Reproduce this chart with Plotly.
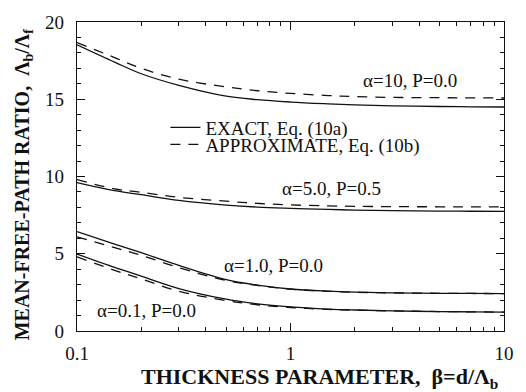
import plotly.graph_objects as go

# ---- data ----
beta = [0.1, 0.15, 0.2, 0.3, 0.5, 0.7, 1, 1.5, 2, 3, 5, 7, 10]

a10_exact = [18.52, 17.4, 16.65, 15.9, 15.2, 14.97, 14.82, 14.7, 14.63, 14.57, 14.53, 14.51, 14.5]
a10_approx = [18.67, 17.7, 17.0, 16.3, 15.8, 15.55, 15.38, 15.24, 15.17, 15.12, 15.1, 15.09, 15.08]
a5_exact = [9.6, 9.08, 8.82, 8.45, 8.15, 8.02, 7.94, 7.87, 7.83, 7.79, 7.76, 7.75, 7.74]
a5_approx = [9.8, 9.2, 8.98, 8.65, 8.4, 8.26, 8.16, 8.1, 8.07, 8.05, 8.04, 8.04, 8.04]
a1_exact = [6.43, 5.63, 5.07, 4.24, 3.32, 2.97, 2.72, 2.58, 2.52, 2.47, 2.44, 2.43, 2.42]
a1_approx = [6.1, 5.4, 4.9, 4.1, 3.27, 2.95, 2.71, 2.57, 2.51, 2.47, 2.44, 2.43, 2.42]
a01_exact = [4.98, 4.12, 3.55, 2.75, 2.06, 1.76, 1.56, 1.42, 1.36, 1.3, 1.26, 1.24, 1.22]
a01_approx = [4.8, 3.93, 3.37, 2.57, 1.97, 1.7, 1.52, 1.4, 1.35, 1.3, 1.26, 1.24, 1.22]

curve_labels = ["α=10, P=0.0", "α=5.0, P=0.5", "α=1.0, P=0.0", "α=0.1, P=0.0"]
# label centres: x as log10(beta) (log axis annotation units), y in data units
label_logx = [0.56, 0.19, -0.078, -0.673]
label_y = [16.2, 9.24, 4.24, 1.33]

x_tick_vals = [0.1, 1, 10]
x_tick_text = ["0.1", "1", "10"]
y_tick_vals = [0, 5, 10, 15, 20]
x_minor = [0.2, 0.3, 0.4, 0.5, 0.6, 0.7, 0.8, 0.9, 2, 3, 4, 5, 6, 7, 8, 9]

legend_exact = "EXACT, Eq. (10a)"
legend_approx = "APPROXIMATE, Eq. (10b)"

FONT = "Liberation Serif"
INK = "#111111"

fig = go.Figure()

exact_sets = [a10_exact, a5_exact, a1_exact, a01_exact]
approx_sets = [a10_approx, a5_approx, a1_approx, a01_approx]

for i, ys in enumerate(exact_sets):
    fig.add_trace(go.Scatter(
        x=beta, y=ys, mode="lines",
        line=dict(color=INK, width=1.3, shape="spline", smoothing=1.0),
        name=legend_exact, showlegend=(i == 0), legend="legend"))
for i, ys in enumerate(approx_sets):
    fig.add_trace(go.Scatter(
        x=beta, y=ys, mode="lines",
        line=dict(color=INK, width=1.3, shape="spline", smoothing=1.0, dash="10px,8px"),
        name=legend_approx, showlegend=(i == 0), legend="legend2"))

annotations = []
for t, lx, ly in zip(curve_labels, label_logx, label_y):
    annotations.append(dict(x=lx, y=ly, xref="x", yref="y", text=t, showarrow=False,
                            xanchor="center", yanchor="middle",
                            font=dict(family=FONT, size=19, color=INK)))

annotations.append(dict(x=0.567, y=0, xref="paper", yref="paper", yshift=-47,
                        text="<b>THICKNESS PARAMETER,  β=d/Λ<sub>b</sub></b>",
                        showarrow=False, xanchor="center", yanchor="middle",
                        font=dict(family=FONT, size=22, color=INK)))
annotations.append(dict(x=0, y=0.4715, xref="paper", yref="paper", xshift=-54,
                        text="<b>MEAN-FREE-PATH RATIO,  Λ<sub>b</sub>/Λ<sub>f</sub></b>",
                        showarrow=False, textangle=-90, xanchor="center", yanchor="middle",
                        font=dict(family=FONT, size=20, color=INK)))

axis_common = dict(showline=True, linecolor=INK, linewidth=1.2, mirror="ticks",
                   ticks="inside", ticklen=8, tickwidth=1, tickcolor=INK,
                   showgrid=False, zeroline=False,
                   tickfont=dict(family=FONT, size=19, color=INK))

fig.update_layout(
    width=526, height=392,
    margin=dict(l=77, r=15, t=15, b=61),
    paper_bgcolor="white", plot_bgcolor="white",
    font=dict(family=FONT, size=19, color=INK),
    annotations=annotations,
    xaxis=dict(type="log", range=[-1, 1], tickvals=x_tick_vals, ticktext=x_tick_text,
               minor=dict(tickvals=x_minor, ticks="inside", ticklen=4, tickcolor=INK),
               ticklabelstandoff=5, **axis_common),
    yaxis=dict(range=[0, 20], tickvals=y_tick_vals,
               minor=dict(dtick=1, ticks="inside", ticklen=4, tickcolor=INK),
               ticklabelstandoff=8, **axis_common),
    legend=dict(x=0.207, y=0.72, xanchor="left", yanchor="top",
                bgcolor="rgba(0,0,0,0)", borderwidth=0,
                font=dict(family=FONT, size=19, color=INK)),
    legend2=dict(x=0.207, y=0.665, xanchor="left", yanchor="top",
                 bgcolor="rgba(0,0,0,0)", borderwidth=0,
                 font=dict(family=FONT, size=19, color=INK)),
)

fig.write_html("out.html")
